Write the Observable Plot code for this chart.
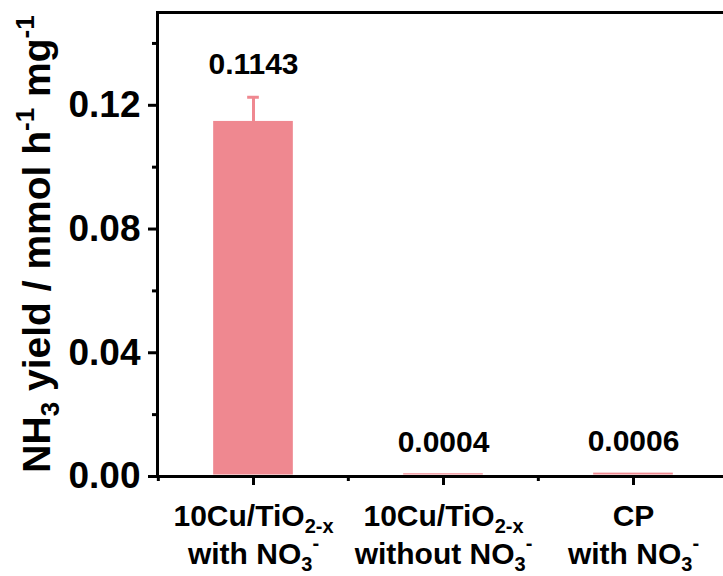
<!DOCTYPE html>
<html><head><meta charset="utf-8">
<script src="https://cdn.jsdelivr.net/npm/d3@7"></script>
<script src="https://cdn.jsdelivr.net/npm/@observablehq/plot@0.6"></script>
<style>
html,body{margin:0;padding:0;background:#fff;overflow:hidden}
#chart{width:723px;height:576px}
</style>
</head><body><div id="chart"></div>
<script>
// ---- data ----
const categories = [
  "10Cu/TiO_{2-x}\nwith NO_{3}^{-}",
  "10Cu/TiO_{2-x}\nwithout NO_{3}^{-}",
  "CP\nwith NO_{3}^{-}"
];
const yields = [0.1143, 0.0004, 0.0006];
const errors = [0.0083, 0, 0];
const valueLabels = ["0.1143", "0.0004", "0.0006"];
const yTicks = [0, 0.04, 0.08, 0.12];
const yMinorTicks = [0.02, 0.06, 0.10, 0.14];
const yDomain = [0, 0.15];
const yTitle = "NH_{3} yield / mmol h^{-1} mg^{-1}";

// ---- layout / style ----
const W = 723, H = 576;
const mL = 157, mR = -5, mT = 12, mB = 100;
const step = (W - mL - mR) / categories.length;
const barColor = "#EF8890";
const font = "'Liberation Sans', Arial, Helvetica, sans-serif";

const data = categories.map((c, i) => ({cat: c, y: yields[i], err: errors[i], label: valueLabels[i]}));
const withErr = data.filter(d => d.err > 0);

const plot = Plot.plot({
  width: W, height: H,
  marginTop: mT, marginBottom: mB, marginLeft: mL, marginRight: mR,
  style: {fontFamily: font, background: "white", color: "black", overflow: "hidden"},
  x: {type: "band", domain: categories, padding: 0, axis: null},
  y: {domain: yDomain, axis: null},
  marks: [
    Plot.frame({stroke: "black", strokeWidth: 3}),
    Plot.axisY(yTicks, {tickSize: 9, tickPadding: 8, tickFormat: d3.format(".2f"), fontSize: 37, fontWeight: "bold", strokeWidth: 3, label: null}),
    Plot.axisY(yMinorTicks, {tickSize: 5, tickFormat: () => "", strokeWidth: 3, label: null}),
    Plot.axisX({tickSize: 9, tickFormat: d => "@@" + categories.indexOf(d), fontSize: 30, fontWeight: "bold", strokeWidth: 3, label: null}),
    Plot.axisX({tickSize: 5, dx: -step / 2, tickFormat: () => "", strokeWidth: 3, label: null}),
    Plot.barY(data, {x: "cat", y: "y", fill: barColor, insetLeft: (step - 80) / 2, insetRight: (step - 80) / 2, dy: -1.5}),
    Plot.ruleX(withErr, {x: "cat", y1: "y", y2: d => d.y + d.err, stroke: barColor, strokeWidth: 3}),
    Plot.tickY(withErr, {x: "cat", y: d => d.y + d.err, stroke: barColor, strokeWidth: 3, insetLeft: (step - 12) / 2, insetRight: (step - 12) / 2}),
    Plot.text(data, {x: "cat", y: d => d.y + d.err, text: "label", dy: -33, fontSize: 30, fontWeight: "bold", fill: "black"})
  ]
});
document.getElementById("chart").appendChild(plot);

// ---- rich text (sub/superscripts) ----
function parseMarkup(s) {
  const segs = [];
  const re = /([_^])\{([^}]*)\}|([^_^]+)/g;
  let m;
  while ((m = re.exec(s))) {
    if (m[3] !== undefined) segs.push({t: m[3], k: "n"});
    else segs.push({t: m[2], k: m[1] === "_" ? "sub" : "sup"});
  }
  return segs;
}
const NS = "http://www.w3.org/2000/svg";
function fillRich(el, str, o) {
  while (el.firstChild) el.removeChild(el.firstChild);
  el.removeAttribute("y");
  el.setAttribute("font-size", o.size);
  el.setAttribute("font-weight", "bold");
  el.setAttribute("text-anchor", "middle");
  el.setAttribute("fill", "black");
  str.split("\n").forEach((line, li) => {
    let shift = 0, first = true;
    parseMarkup(line).forEach(seg => {
      const ts = document.createElementNS(NS, "tspan");
      const target = seg.k === "sub" ? o.subShift : seg.k === "sup" ? -o.supShift : 0;
      if (first) {
        ts.setAttribute("x", 0);
        ts.setAttribute("y", o.base + li * o.lineGap + target);
        first = false;
      } else {
        ts.setAttribute("dy", target - shift);
      }
      shift = target;
      if (seg.k !== "n") ts.setAttribute("font-size", o.subSize);
      ts.textContent = seg.t;
      el.appendChild(ts);
    });
  });
}

// x tick labels
plot.querySelectorAll("text").forEach(t => {
  const m = /^@@(\d+)$/.exec(t.textContent.trim());
  if (!m) return;
  const ctm = t.getCTM();
  const originY = ctm ? ctm.f : 0;
  fillRich(t, categories[+m[1]], {size: 30, subSize: 20, subShift: 7, supShift: 14, lineGap: 38, base: 526 - originY});
});

// y-axis title
const title = document.createElementNS(NS, "text");
title.setAttribute("transform", `translate(50,244) rotate(-90)`);
title.setAttribute("font-family", font);
plot.appendChild(title);
fillRich(title, yTitle, {size: 39, subSize: 26, subShift: 9, supShift: 16, lineGap: 0, base: 0});
</script>
</body></html>
